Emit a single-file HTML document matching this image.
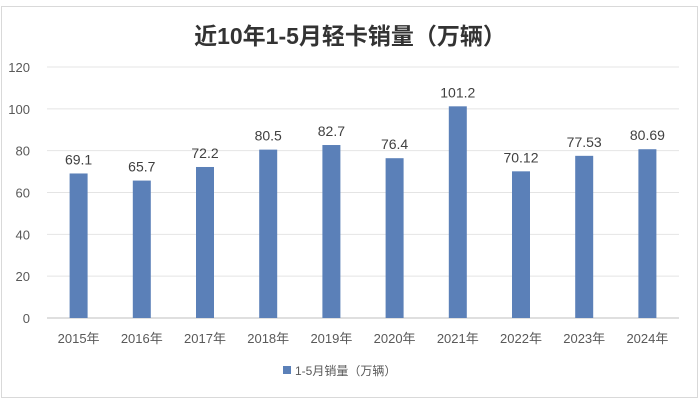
<!DOCTYPE html>
<html><head><meta charset="utf-8"><style>
body{margin:0;background:#fff;width:700px;height:403px;overflow:hidden;font-family:"Liberation Sans","Noto Sans CJK SC",sans-serif;}
</style></head><body>
<svg width="700" height="403" xmlns="http://www.w3.org/2000/svg">
<rect x="1.5" y="6.5" width="696" height="391" fill="#fff" stroke="#d9d9d9"/>
<text x="350" y="44" text-anchor="middle" font-size="23" font-weight="bold" fill="#333" font-family="Liberation Sans, Noto Sans CJK SC, sans-serif">近10年1-5月轻卡销量（万辆）</text>
<g id="grid"></g><g id="bars"></g><g id="labels"></g>
<g>
<rect x="283" y="366" width="8" height="8" fill="#5b80b8"/>
<text x="295" y="375" font-size="12" fill="#595959">1-5月销量（万辆）</text>
</g>
</svg>
<script>
const categories=["2015年","2016年","2017年","2018年","2019年","2020年","2021年","2022年","2023年","2024年"];
const values=[69.1,65.7,72.2,80.5,82.7,76.4,101.2,70.12,77.53,80.69];
const valueLabels=["69.1","65.7","72.2","80.5","82.7","76.4","101.2","70.12","77.53","80.69"];
const ticks=[0,20,40,60,80,100,120];
const NS="http://www.w3.org/2000/svg";
const L=47,R=679,Y0=318,Ymax=67;
const y=v=>Y0-(v/120)*(Y0-Ymax);
const step=(R-L)/categories.length;
const x=i=>L+step*(i+0.5);
function mk(t,a,p){const e=document.createElementNS(NS,t);for(const k in a)e.setAttribute(k,a[k]);p.appendChild(e);return e;}
const g=document.getElementById('grid'),b=document.getElementById('bars'),lb=document.getElementById('labels');
ticks.forEach(t=>{
 const ln=mk('line',{x1:L,x2:R,y1:y(t),y2:y(t),stroke:t===0?'#bfbfbf':'#e4e4e4','stroke-width':1},g);
 
 
 const tx=mk('text',{x:30,y:y(t)+5,'text-anchor':'end','font-size':13,fill:'#595959'},g);
 tx.textContent=t;
 
 
});
categories.forEach((c,i)=>{
 const r=mk('rect',{x:x(i)-9,y:y(values[i]),width:18,height:Y0-y(values[i]),fill:'#5b80b8'},b);
 
 
 const v=mk('text',{x:x(i),y:y(values[i])-9,'text-anchor':'middle','font-size':14,fill:'#404040'},lb);
 v.textContent=valueLabels[i];
 
 
 const t=mk('text',{x:x(i),y:343,'text-anchor':'middle','font-size':13,fill:'#595959'},lb);
 t.textContent=c;
 
 
});
</script>
</body></html>
